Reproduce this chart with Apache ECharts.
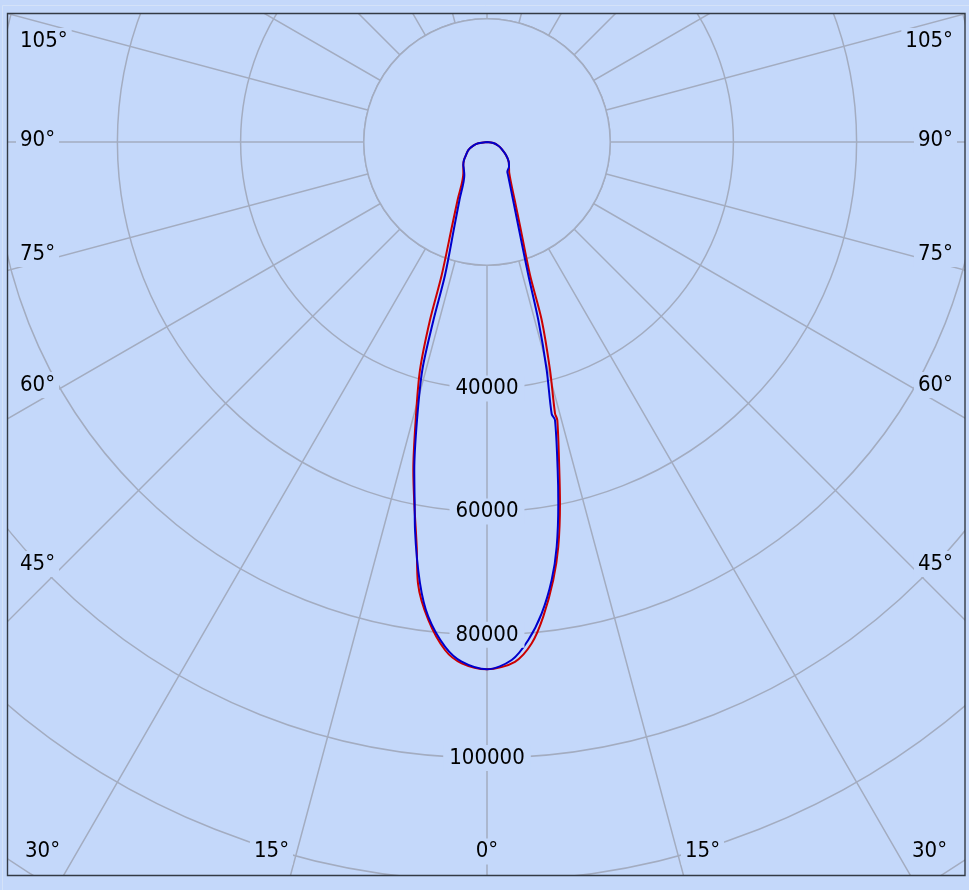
<!DOCTYPE html>
<html>
<head>
<meta charset="utf-8">
<script src="https://cdn.jsdelivr.net/npm/echarts@6/dist/echarts.min.js"></script>
<style>
html,body{margin:0;padding:0;background:#c4d8fa;}
#chart{width:969px;height:890px;}
</style>
</head>
<body>
<div id="chart"></div>
<script>
// ---------- data ----------
// gamma angles in degrees: negative = left half, positive = right half; values in cd
const blueAngles = [-90,-81.5,-74.9,-66.8,-58.2,-52,-45.9,-41.5,-34.5,-25.4,-21.3,-17.5,-16.73,-15.84,-14.13,-12.5,-11.33,-10.51,-8.64,-7.05,-4.76,-2.79,0,2.73,4.74,6.62,8.40,9.77,11.17,12.16,13.74,13.38,14.67,16.08,17.25,19.2,24.2,32.5,34.4,41.7,47.8,55.6,64.5,71.9,81,90];
const blueValues = [0,1430,2300,3300,4010,4740,5360,5700,6500,10420,14460,22650,30180,38470,46540,54550,59770,64060,72420,77650,82210,84470,85600,84190,81120,77030,71880,66670,59740,54470,46460,45390,38260,30070,22610,16850,10330,6350,5840,5370,4760,3730,2650,1930,1040,0];

const redAngles = [-90,-81.5,-74.9,-66.8,-58.2,-52,-45.9,-37.1,-26.9,-22.7,-18.8,-17.76,-16.38,-14.39,-12.66,-11.39,-9.85,-8.89,-7.0,-4.73,-2.78,0,3.08,5.1,6.76,8.6,9.99,11.43,12.43,14.19,14.07,15.45,17.08,17.92,21.6,25.5,35.5,41.7,47.8,55.6,64.5,71.9,81,90];
const redValues = [0,1430,2300,3300,4010,4740,5360,6370,10550,14610,22810,30340,38570,46590,54580,59770,66690,72520,78180,82750,84730,85600,84500,81710,77600,71920,66710,59790,54530,46560,45410,38390,30230,22700,14480,10440,6230,5370,4760,3730,2650,1930,1040,0];

// tick labels
const radiusTickLabels = [40000, 60000, 80000, 100000];
const sideAngleLabels = ['105°', '90°', '75°', '60°', '45°'];
const bottomAngleLabels = ['30°', '15°', '0°', '15°', '30°'];

// ---------- layout / style ----------
const BG = '#c4d8fa';
const GRID = '#a3acc0';
const FONT_FAMILY = '"DejaVu Sans Condensed", "Liberation Sans", sans-serif';
const FONT_SIZE = 22;
const CENTER = [487, 142];
const RADIUS_MAX = 160000;
const PX_PER_20K = 123.2;
const POLAR_RADIUS = RADIUS_MAX / 20000 * PX_PER_20K;
const BOX = {x0: 7.5, y0: 13.5, x1: 965, y1: 875.5};
const sideLabelY = [41, 140, 254, 385, 564];
const bottomLabelX = [42.5, 271.5, 487, 702.5, 929.5];
const bottomLabelY = 851.5;

function toData(angles, values) {
  return angles.map((a, i) => [values[i], (a + 360) % 360]);
}

const chart = echarts.init(document.getElementById('chart'), null, {renderer: 'canvas'});

const font = FONT_SIZE + 'px ' + FONT_FAMILY;
const graphics = [];

// inner disk (20000 circle) hides the radial lines near the centre
graphics.push({
  type: 'circle', z: 1, silent: true,
  shape: {cx: CENTER[0], cy: CENTER[1], r: 20000 / RADIUS_MAX * POLAR_RADIUS},
  style: {fill: BG, stroke: GRID, lineWidth: 1.5}
});

function angleLabel(text, x, y, align) {
  const pad = [2, 4, 2, 4];
  let ax = x;
  if (align === 'left') ax = x - pad[3];
  if (align === 'right') ax = x + pad[1];
  return {
    type: 'text', z: 50, silent: true, x: ax, y: y,
    style: {
      text: text, fill: '#000', font: font,
      align: align, verticalAlign: 'middle',
      textAlign: align, textVerticalAlign: 'middle',
      backgroundColor: BG, padding: pad
    }
  };
}
sideAngleLabels.forEach((t, i) => {
  graphics.push(angleLabel(t, 20, sideLabelY[i], 'left'));
  graphics.push(angleLabel(t, 953, sideLabelY[i], 'right'));
});
bottomAngleLabels.forEach((t, i) => {
  graphics.push(angleLabel(t, bottomLabelX[i], bottomLabelY, 'center'));
});

// masks outside the plot box
const W = 969, H = 890;
[
  {x: 0, y: 0, width: W, height: BOX.y0},
  {x: 0, y: 0, width: BOX.x0, height: H},
  {x: BOX.x1, y: 0, width: W - BOX.x1, height: H},
  {x: 0, y: BOX.y1, width: W, height: H - BOX.y1}
].forEach(s => graphics.push({type: 'rect', z: 100, silent: true, shape: s, style: {fill: BG}}));
// faint outer frame lines
graphics.push({type: 'line', z: 101, silent: true, shape: {x1: 2.5, y1: 5.5, x2: 2.5, y2: H}, style: {stroke: '#d4e2f8', lineWidth: 1}});
graphics.push({type: 'line', z: 101, silent: true, shape: {x1: 2.5, y1: 5.5, x2: W, y2: 5.5}, style: {stroke: '#d4e2f8', lineWidth: 1}});
// plot border
graphics.push({
  type: 'rect', z: 102, silent: true,
  shape: {x: BOX.x0, y: BOX.y0, width: BOX.x1 - BOX.x0, height: BOX.y1 - BOX.y0},
  style: {fill: 'none', stroke: '#333a44', lineWidth: 1.4}
});

const option = {
  animation: false,
  backgroundColor: BG,
  textStyle: {fontFamily: FONT_FAMILY},
  polar: [
    {center: CENTER, radius: POLAR_RADIUS},
    {center: CENTER, radius: POLAR_RADIUS}
  ],
  angleAxis: [
    {
      polarIndex: 0, type: 'value', min: 0, max: 360, interval: 15,
      startAngle: 270, clockwise: false, z: 0,
      axisLine: {show: false}, axisTick: {show: false}, axisLabel: {show: false},
      splitLine: {show: true, lineStyle: {color: GRID, width: 1.5}}
    },
    {
      polarIndex: 1, type: 'value', min: 0, max: 360, interval: 15,
      startAngle: 270, clockwise: false, z: 0,
      axisLine: {show: false}, axisTick: {show: false}, axisLabel: {show: false},
      splitLine: {show: false}
    }
  ],
  radiusAxis: [
    {
      polarIndex: 0, type: 'value', min: 0, max: RADIUS_MAX, interval: 20000, z: 0,
      axisLine: {show: false}, axisTick: {show: false}, axisLabel: {show: false},
      splitLine: {show: true, lineStyle: {color: GRID, width: 1.5}}
    },
    {
      polarIndex: 1, type: 'value', min: 0, max: RADIUS_MAX, interval: 20000, z: 5,
      axisLine: {show: false}, axisTick: {show: false}, splitLine: {show: false},
      axisLabel: {
        show: true, margin: 0, align: 'center', verticalAlign: 'middle',
        formatter: v => radiusTickLabels.indexOf(v) >= 0 ? '{b|' + v + '}' : '',
        rich: {
          b: {
            fontFamily: FONT_FAMILY, fontSize: FONT_SIZE, color: '#000',
            backgroundColor: BG, padding: [2, 6, 2, 6]
          }
        }
      }
    }
  ],
  series: [
    {
      name: 'C0-C180', type: 'line', coordinateSystem: 'polar', polarIndex: 0,
      data: toData(redAngles, redValues), showSymbol: false, symbol: 'none',
      smooth: 0.3,
      lineStyle: {color: '#cc0000', width: 2}, z: 2, silent: true
    },
    {
      name: 'C90-C270', type: 'line', coordinateSystem: 'polar', polarIndex: 0,
      data: toData(blueAngles, blueValues), showSymbol: false, symbol: 'none',
      smooth: 0.3,
      lineStyle: {color: '#0000cc', width: 2}, z: 3, silent: true
    }
  ],
  graphic: {elements: graphics}
};
chart.setOption(option);
</script>
</body>
</html>
